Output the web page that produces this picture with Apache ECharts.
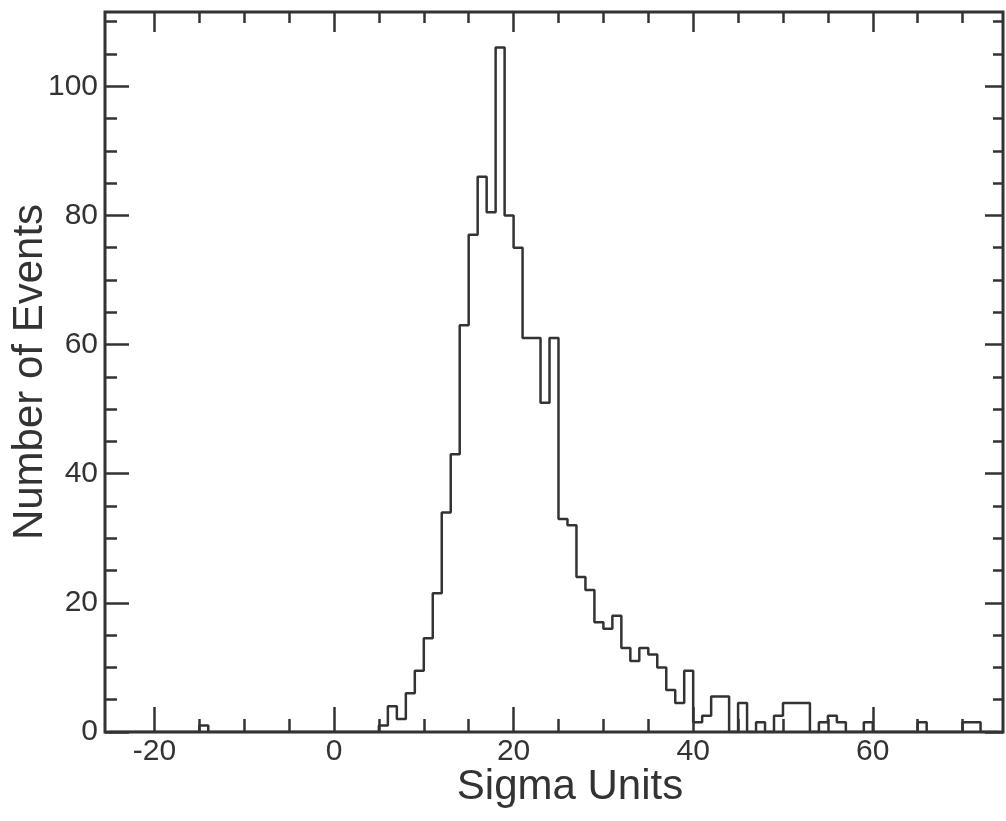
<!DOCTYPE html>
<html>
<head>
<meta charset="utf-8">
<script src="https://cdn.jsdelivr.net/npm/echarts@6/dist/echarts.min.js"></script>
<style>html,body{margin:0;padding:0;background:#fff;}#c{width:1006px;height:821px;}</style>
</head>
<body>
<div id="c"></div>
<script>
// Histogram: bins of width 1, first bin starts at binStart
const binStart = -25;
const counts = [
  0,0,0,0,0,0,0,0,0,0,          // -25 .. -16
  1,                            // -15
  0,0,0,0,0,0,0,0,0,0,0,0,0,0,0,0,0,0,0, // -14 .. 4
  1,4,2,6,9.5,14.5,21.5,34,43,63, // 5 .. 14
  77,86,80.5,106,80,75,61,61,51,61, // 15 .. 24
  33,32,24,22,17,16,18,13,11,13,  // 25 .. 34
  12,10,6.5,4.5,9.5,1.5,2.5,5.5,5.5,0, // 35 .. 44
  4.5,0,1.5,0,2.5,4.5,4.5,4.5,0,1.5,   // 45 .. 54
  2.5,1.5,0,0,1.5,0,0,0,0,0,      // 55 .. 64
  1.5,0,0,0,0,1.5,1.5,0,0         // 65 .. 73
];
const xMajorTicks = [-20, 0, 20, 40, 60];
const xMinorTicks = [-15, -10, -5, 5, 10, 15, 25, 30, 35, 45, 50, 55, 65, 70];
const yMajorTicks = [0, 20, 40, 60, 80, 100];
const yMinorTicks = [5, 10, 15, 25, 30, 35, 45, 50, 55, 65, 70, 75, 85, 90, 95, 105, 110];

const INK = '#333';
const FONT = '"Liberation Sans", Arial, Helvetica, sans-serif';
const X_MIN = -25.5, X_MAX = 74.5, Y_MIN = 0, Y_MAX = 111.5;

const histData = [[binStart, 0]];
counts.forEach((c, i) => histData.push([binStart + i, c]));
histData.push([binStart + counts.length, 0]);

function axis(dim, pos, ticks, len, labels, extra) {
  const a = {
    type: 'value', position: pos,
    min: dim === 'x' ? X_MIN : Y_MIN,
    max: dim === 'x' ? X_MAX : Y_MAX,
    axisLine: { show: false, onZero: false },
    splitLine: { show: false },
    nameMoveOverlap: false,
    axisTick: { show: true, inside: true, length: len, customValues: ticks,
                lineStyle: { color: INK, width: 2.5 } },
    axisLabel: labels ? { show: true, customValues: labels, color: INK,
                          fontSize: 30, fontFamily: FONT,
                          margin: dim === 'x' ? 5 : 7 } : { show: false }
  };
  return Object.assign(a, extra || {});
}

const chart = echarts.init(document.getElementById('c'), null, { renderer: 'canvas' });
chart.setOption({
  backgroundColor: '#fff',
  animation: false,
  grid: { left: 105, top: 12, width: 898, height: 720, show: true,
          outerBoundsMode: 'none', containLabel: false,
          borderColor: INK, borderWidth: 3, backgroundColor: 'transparent' },
  xAxis: [
    axis('x', 'bottom', xMajorTicks, 25, xMajorTicks, {
      name: 'Sigma Units', nameLocation: 'middle', nameGap: 34,
      nameTextStyle: { color: INK, fontSize: 42, fontFamily: FONT,
                       verticalAlign: 'top', padding: [0, 0, 0, 32] }
    }),
    axis('x', 'bottom', xMinorTicks, 13, null),
    axis('x', 'top', xMajorTicks, 20, null),
    axis('x', 'top', xMinorTicks, 11, null)
  ],
  yAxis: [
    axis('y', 'left', yMajorTicks, 24, yMajorTicks, {
      name: 'Number of Events', nameLocation: 'middle', nameGap: 54,
      nameTextStyle: { color: INK, fontSize: 42, fontFamily: FONT }
    }),
    axis('y', 'left', yMinorTicks, 12, null),
    axis('y', 'right', yMajorTicks, 18, null),
    axis('y', 'right', yMinorTicks, 10, null)
  ],
  series: [{
    type: 'line', step: 'end', xAxisIndex: 0, yAxisIndex: 0,
    data: histData, showSymbol: false, symbol: 'none',
    lineStyle: { color: INK, width: 2.5 }, silent: true
  }]
});
</script>
</body>
</html>
